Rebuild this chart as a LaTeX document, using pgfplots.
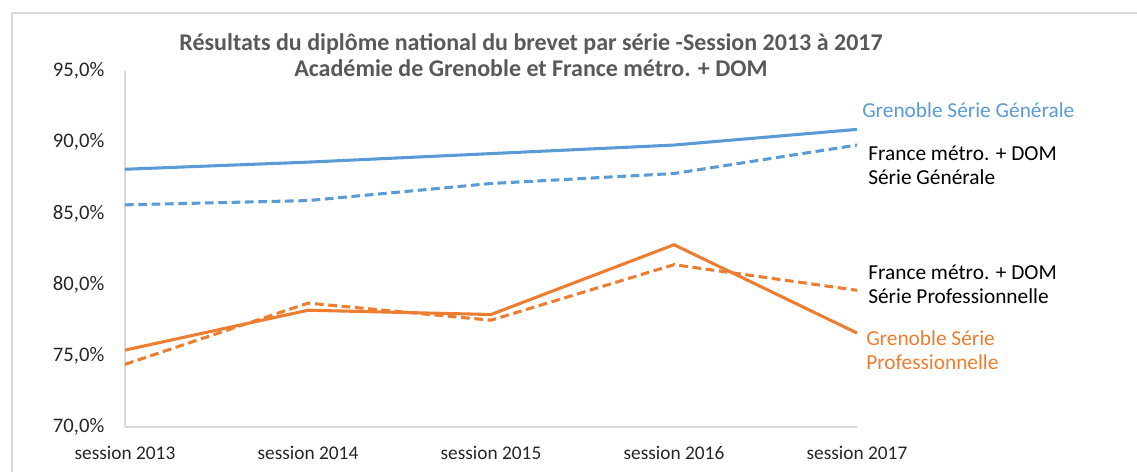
\documentclass[border=0pt]{standalone}
\usepackage{fontspec}
\setmainfont{Carlito}
\usepackage{pgfplots}
\pgfplotsset{compat=1.18}

\definecolor{gblue}{HTML}{5B9BD5}
\definecolor{gorange}{HTML}{ED7D31}
\definecolor{frame}{HTML}{D9D9D9}
\definecolor{titlegrey}{HTML}{595959}
\definecolor{ticktext}{HTML}{262626}

\begin{document}
\begin{tikzpicture}[x=0.75pt,y=0.75pt]
\useasboundingbox (0,0) rectangle (1137,472);
% chart frame (only top and left edges are visible)
\draw[frame, line width=1.1pt] (12,0) -- (12,459) -- (1137,459);

\begin{axis}[
    at={(93.75pt,33.75pt)}, anchor=origin,
    scale only axis, width=549pt, height=267pt,
    xmin=0, xmax=4, ymin=70, ymax=95,
    axis x line=bottom, axis y line=left,
    axis line style={frame, line width=1pt, -},
    major tick length=0pt,
    xtick={0,1,2,3,4},
    xticklabels={session 2013, session 2014, session 2015, session 2016, session 2017},
    ytick={70,75,80,85,90,95},
    yticklabel={\pgfmathprintnumber[fixed,fixed zerofill,precision=1,use comma]{\tick}\%},
    tick label style={text=ticktext},
    xticklabel style={font=\fontsize{14.5}{16}\selectfont, yshift=-11pt},
    yticklabel style={font=\fontsize{15.5}{17}\selectfont, xshift=-12pt},
    /pgf/number format/assume math mode=true,
    clip=false,
]
% Grenoble Série Générale
\addplot[gblue, line width=2.3pt] coordinates {(0,88.1) (1,88.6) (2,89.2) (3,89.8) (4,90.9)};
% France métro. + DOM Série Générale
\addplot[gblue, line width=2.3pt, dash pattern=on 6.5pt off 3.5pt] coordinates {(0,85.6) (1,85.9) (2,87.1) (3,87.8) (4,89.8)};
% Grenoble Série Professionnelle
\addplot[gorange, line width=2.3pt] coordinates {(0,75.4) (1,78.2) (2,77.9) (3,82.8) (4,76.6)};
% France métro. + DOM Série Professionnelle
\addplot[gorange, line width=2.3pt, dash pattern=on 6.5pt off 3.5pt] coordinates {(0,74.4) (1,78.7) (2,77.5) (3,81.4) (4,79.6)};
\end{axis}

% title
\node[font=\fontsize{18}{19.5}\selectfont\bfseries, text=titlegrey, align=center] at (531,417)
  {Résultats du diplôme national du brevet par série -Session 2013 à 2017\\Académie de Grenoble et France métro. + DOM};

% series labels
\node[anchor=west, inner sep=0pt, text=gblue, font=\fontsize{16}{18}\selectfont] at (862,362) {Grenoble Série Générale};
\node[anchor=west, inner sep=0pt, text=black, font=\fontsize{16}{18}\selectfont, align=left] at (868,307) {France métro. + DOM\\Série Générale};
\node[anchor=west, inner sep=0pt, text=black, font=\fontsize{16}{18}\selectfont, align=left] at (868,188) {France métro. + DOM\\Série Professionnelle};
\node[anchor=west, inner sep=0pt, text=gorange, font=\fontsize{16}{18}\selectfont, align=left] at (866,122) {Grenoble Série\\Professionnelle};
\end{tikzpicture}
\end{document}
